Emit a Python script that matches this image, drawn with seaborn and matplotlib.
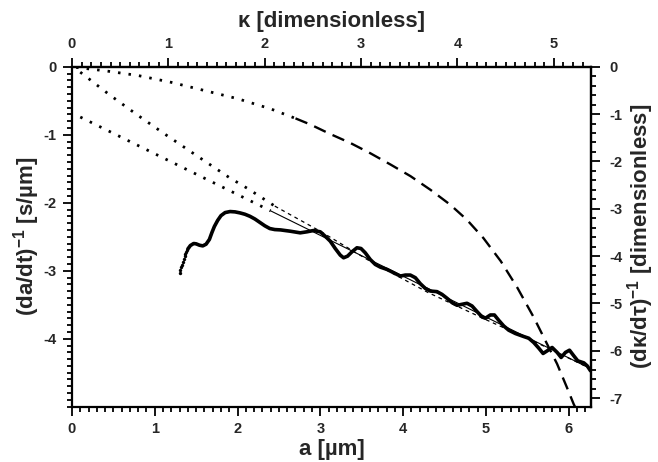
import matplotlib
matplotlib.use("Agg")
import matplotlib.pyplot as plt
from matplotlib.ticker import MultipleLocator
import seaborn as sns
import pandas as pd

# ---------------- data ----------------
# measured curve (thick)
data_a = [1.40, 1.43, 1.47, 1.50, 1.54, 1.58, 1.62, 1.66, 1.69, 1.72, 1.76, 1.80,
          1.85, 1.91, 1.97, 2.03, 2.09, 2.15, 2.21, 2.27, 2.33, 2.39, 2.45, 2.52,
          2.58, 2.636, 2.757, 2.838, 2.918, 2.999, 3.059, 3.120, 3.180, 3.241, 3.281,
          3.329, 3.382, 3.442, 3.491, 3.543, 3.603, 3.664, 3.724, 3.805, 3.886, 3.966,
          4.027, 4.087, 4.148, 4.208, 4.268, 4.329, 4.410, 4.470, 4.531, 4.591, 4.652,
          4.712, 4.772, 4.833, 4.893, 4.954, 4.994, 5.054, 5.103, 5.155, 5.215, 5.276,
          5.357, 5.457, 5.518, 5.578, 5.639, 5.691, 5.740, 5.800, 5.861, 5.909, 5.961,
          6.010, 6.062, 6.110, 6.183, 6.224, 6.264]
data_y = [-2.68, -2.63, -2.60, -2.605, -2.625, -2.635, -2.61, -2.54, -2.44, -2.35, -2.26, -2.19,
          -2.145, -2.13, -2.135, -2.15, -2.17, -2.20, -2.24, -2.29, -2.34, -2.38, -2.395, -2.40,
          -2.41, -2.419, -2.443, -2.428, -2.409, -2.428, -2.493, -2.566, -2.673, -2.771, -2.810,
          -2.786, -2.722, -2.663, -2.673, -2.737, -2.835, -2.908, -2.947, -2.981, -3.030, -3.079,
          -3.064, -3.064, -3.103, -3.191, -3.260, -3.299, -3.308, -3.348, -3.406, -3.469, -3.509,
          -3.494, -3.479, -3.519, -3.601, -3.680, -3.699, -3.651, -3.651, -3.729, -3.812, -3.875,
          -3.924, -3.968, -3.993, -4.056, -4.139, -4.217, -4.179, -4.129, -4.202, -4.276, -4.202,
          -4.169, -4.252, -4.326, -4.355, -4.399, -4.472]
# sparse leading points of the measured curve (drawn as dots)
start_a = [1.30, 1.31, 1.32, 1.33, 1.34, 1.35, 1.36, 1.37, 1.38, 1.39]
start_y = [-3.03, -2.99, -2.95, -2.91, -2.87, -2.83, -2.79, -2.76, -2.73, -2.70]

# upper curve: dotted part then dashed part
top_dot_a = [0.05, 0.4, 0.8, 1.2, 1.6, 2.0, 2.4, 2.7]
top_dot_y = [-0.01, -0.06, -0.13, -0.23, -0.35, -0.47, -0.62, -0.76]
top_dash_a = [2.7, 2.88, 3.12, 3.36, 3.60, 3.85, 4.09, 4.33, 4.57, 4.77, 4.97, 5.18,
              5.38, 5.58, 5.74, 5.86, 5.98, 6.06, 6.10]
top_dash_y = [-0.76, -0.85, -0.99, -1.12, -1.27, -1.44, -1.61, -1.81, -2.03, -2.25, -2.52, -2.86,
              -3.25, -3.69, -4.08, -4.37, -4.72, -4.96, -5.06]

# middle curve: dotted part then thin dashed part
mid_dot_a = [0.10, 0.45, 0.79, 1.12, 1.46, 1.90, 2.12, 2.45]
mid_dot_y = [-0.08, -0.41, -0.71, -0.99, -1.27, -1.63, -1.79, -2.05]
mid_dash_a = [2.45, 3.0, 3.6, 4.3, 5.0, 5.6, 6.28]
mid_dash_y = [-2.05, -2.42, -2.86, -3.32, -3.72, -4.05, -4.45]

# linear fit: dotted extrapolation then thin solid
fit_dot_a = [0.10, 2.40]
fit_dot_y = [-0.74, -2.12]
fit_a = [2.40, 6.28]
fit_y = [-2.12, -4.45]

# axis settings
x_ticks = [0, 1, 2, 3, 4, 5, 6]
y_ticks = [0, -1, -2, -3, -4]
kappa_ticks = [0, 1, 2, 3, 4, 5]
right_ticks = [0, -1, -2, -3, -4, -5, -6, -7]
KAPPA_PER_A = 0.859
RIGHT_PER_LEFT = 1.436

# ---------------- style ----------------
sns.set_style("ticks")
plt.rcParams['font.family'] = ['Liberation Sans', 'DejaVu Sans']
plt.rcParams['font.weight'] = 'bold'
plt.rcParams['axes.unicode_minus'] = False
plt.rcParams['mathtext.fontset'] = 'custom'
plt.rcParams['mathtext.rm'] = 'Liberation Sans:bold'
plt.rcParams['mathtext.it'] = 'Liberation Sans:bold'
plt.rcParams['mathtext.bf'] = 'Liberation Sans:bold'

fig = plt.figure(figsize=(6.58, 4.62), dpi=100)
ax = fig.add_axes([0.1094, 0.1197, 0.7888, 0.7359])

DOT = (0, (0.9, 2.9))

def line(xs, ys, **kw):
    df = pd.DataFrame({"x": xs, "y": ys})
    sns.lineplot(data=df, x="x", y="y", ax=ax, sort=False, estimator=None,
                 color="black", legend=False, **kw)

line(top_dot_a, top_dot_y, lw=2.0, linestyle=DOT)
line(top_dash_a, top_dash_y, lw=1.7, linestyle=(0, (5.4, 3.2)))
line(mid_dot_a, mid_dot_y, lw=2.0, linestyle=DOT)
line(mid_dash_a, mid_dash_y, lw=0.9, linestyle=(0, (3, 3)))
line(fit_dot_a, fit_dot_y, lw=2.0, linestyle=DOT)
line(fit_a, fit_y, lw=0.8)
line(data_a, data_y, lw=2.6, solid_capstyle='round', solid_joinstyle='round')
sns.scatterplot(x=start_a, y=start_y, ax=ax, s=6, color="black", edgecolor="black",
                linewidth=0, legend=False)

ax.set_xlim(0, 6.27)
ax.set_ylim(-5, 0)
ax.set_xticks(x_ticks)
ax.set_yticks(y_ticks)
ax.xaxis.set_minor_locator(MultipleLocator(0.1))
ax.yaxis.set_minor_locator(MultipleLocator(0.1))
ax.set_xlabel("a [µm]", fontsize=16, fontweight='bold', labelpad=2)
ax.set_ylabel("(da/dt)$^{-1}$ [s/µm]", fontsize=16, fontweight='bold', labelpad=1)

for s in ax.spines.values():
    s.set_linewidth(1.6)
    s.set_visible(True)
    s.set_color("black")

tick_kw = dict(direction='out', width=1.3, color='black')
ax.tick_params(which='major', length=6.3, pad=5, labelsize=10.5, **tick_kw)
ax.tick_params(which='minor', length=3.8, **tick_kw)

secx = ax.secondary_xaxis('top', functions=(lambda a: a * KAPPA_PER_A,
                                             lambda k: k / KAPPA_PER_A))
secx.set_xticks(kappa_ticks)
secx.xaxis.set_minor_locator(MultipleLocator(0.1))
secx.tick_params(which='major', length=6.3, pad=5, labelsize=10.5, **tick_kw)
secx.tick_params(which='minor', length=3.8, **tick_kw)
secx.set_xlabel("κ [dimensionless]", fontsize=16, fontweight='bold', labelpad=7)
secx.spines['top'].set_linewidth(1.6)

secy = ax.secondary_yaxis('right', functions=(lambda y: y * RIGHT_PER_LEFT,
                                               lambda r: r / RIGHT_PER_LEFT))
secy.set_yticks(right_ticks)
secy.yaxis.set_minor_locator(MultipleLocator(0.2))
secy.tick_params(which='major', length=6.3, pad=7, labelsize=10.5, **tick_kw)
secy.tick_params(which='minor', length=3.8, **tick_kw)
secy.set_ylabel("(dκ/dτ)$^{-1}$ [dimensionless]", fontsize=16, fontweight='bold',
                labelpad=2, rotation=90)
secy.spines['right'].set_linewidth(1.6)

for lab in (ax.get_xticklabels() + ax.get_yticklabels() +
            secx.get_xticklabels() + secy.get_yticklabels()):
    lab.set_fontweight('bold')

fig.savefig("out.png", dpi=100)
